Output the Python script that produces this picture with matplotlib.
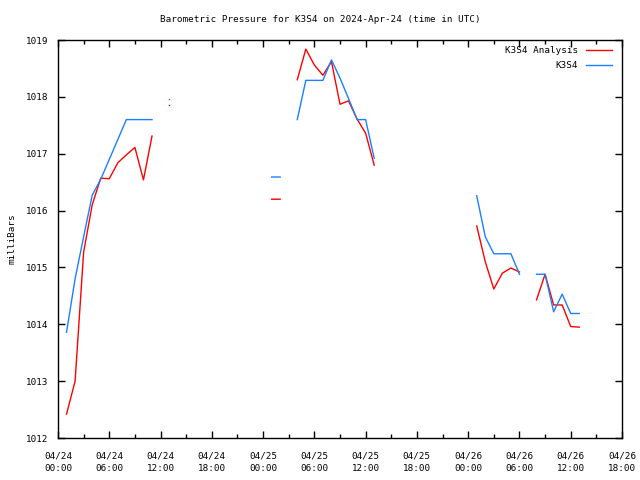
import numpy as np
import matplotlib
matplotlib.use('Agg')
import matplotlib.pyplot as plt

nan = np.nan

# hours since 2024-04-24 00:00 UTC
hours = list(range(0, 67))

# K3S4 Analysis (red)
analysis = [nan,
            1012.42, 1013.00, 1015.27, 1016.10, 1016.57, 1016.56, 1016.84, 1016.98, 1017.11, 1016.54,
            1017.31, nan, 1017.85, nan, nan, nan, nan, nan, nan, nan,
            nan, nan, nan, nan, 1016.20, 1016.20, nan, 1018.30, 1018.84, 1018.56,
            1018.38, 1018.62, 1017.87, 1017.93, 1017.61, 1017.36, 1016.80, nan, nan, nan,
            nan, nan, nan, nan, nan, nan, nan, nan, 1015.73, 1015.10,
            1014.62, 1014.90, 1014.99, 1014.92, nan, 1014.43, 1014.88, 1014.34, 1014.34, 1013.96,
            1013.95, nan, nan, nan, nan, nan]

# K3S4 observations (blue)
observed = [nan,
            1013.86, 1014.80, 1015.54, 1016.27, 1016.55, 1016.90, 1017.25, 1017.60, 1017.60, 1017.60,
            1017.60, nan, 1017.96, nan, nan, nan, nan, nan, nan, nan,
            nan, nan, nan, nan, 1016.59, 1016.59, nan, 1017.60, 1018.29, 1018.29,
            1018.29, 1018.65, 1018.33, 1017.97, 1017.60, 1017.60, 1016.92, nan, nan, nan,
            nan, nan, nan, nan, nan, nan, nan, nan, 1016.26, 1015.54,
            1015.24, 1015.24, 1015.24, 1014.88, nan, 1014.88, 1014.88, 1014.22, 1014.53, 1014.19,
            1014.19, nan, nan, nan, nan, nan]

tick_labels = ['04/24\n00:00', '04/24\n06:00', '04/24\n12:00', '04/24\n18:00',
               '04/25\n00:00', '04/25\n06:00', '04/25\n12:00', '04/25\n18:00',
               '04/26\n00:00', '04/26\n06:00', '04/26\n12:00', '04/26\n18:00']

RED = '#ff0000'
BLUE = '#1a80ff'

plt.rcParams['font.family'] = ['DejaVu Sans Mono']
plt.rcParams['font.size'] = 6.65

fig = plt.figure(figsize=(6.4, 4.8), dpi=100)
ax = fig.add_axes([58 / 640, 1 - 438 / 480, 564 / 640, 398 / 480])


def isolated(vals):
    v = np.array(vals, dtype=float)
    prev = np.r_[nan, v[:-1]]
    nxt = np.r_[v[1:], nan]
    return ~np.isnan(v) & np.isnan(prev) & np.isnan(nxt)


for vals, col, lab in [(analysis, RED, 'K3S4 Analysis'), (observed, BLUE, 'K3S4')]:
    ax.plot(hours, vals, color=col, lw=1, label=lab)
    m = isolated(vals)
    ax.plot(np.array(hours)[m], np.array(vals)[m], ls='none', marker='s',
            ms=1.0, mew=0, color=col)

ax.set_xlim(0, 66)
ax.set_ylim(1012, 1019)
ax.set_xticks(range(0, 67, 6))
ax.set_xticklabels(tick_labels, linespacing=1.5)
ax.set_xticks(range(0, 67, 3), minor=True)
ax.set_yticks(range(1012, 1020))
ax.tick_params(direction='in', which='both', top=True, right=True, length=5, width=1)
ax.tick_params(which='minor', length=3)
ax.tick_params(axis='x', pad=10)
ax.tick_params(axis='y', pad=7)
for s in ax.spines.values():
    s.set_linewidth(1)

ax.set_ylabel('milliBars', labelpad=7)
fig.text(0.5, 1 - 19 / 480, 'Barometric Pressure for K3S4 on 2024-Apr-24 (time in UTC)',
         ha='center', va='center')

ax.legend(loc='upper right', frameon=False, markerfirst=False, handlelength=2.8,
          borderaxespad=0.3, borderpad=0.4, labelspacing=0.6, handletextpad=0.8,
          bbox_to_anchor=(0.993, 1.0))

fig.savefig('out.png', dpi=100)
